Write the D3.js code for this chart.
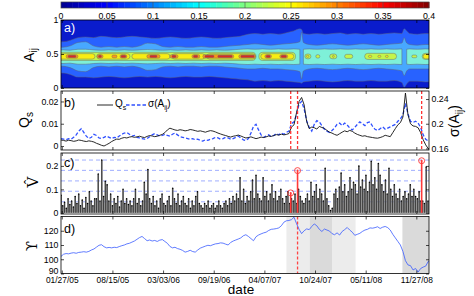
<!DOCTYPE html>
<html><head><meta charset="utf-8">
<script src="https://cdn.jsdelivr.net/npm/d3@7"></script>
<style>
body{margin:0;background:#fff}
svg{display:block}
text{font-family:"Liberation Sans",Arial,sans-serif}
</style>
</head><body>
<svg id="chart" width="474" height="296"></svg>
<script>
// ================= DATA =================
const cbTicks = [0,0.05,0.1,0.15,0.2,0.25,0.3,0.35,0.4];
const dateTickLabels = ["01/27/05","08/15/05","03/03/06","09/19/06","04/07/07","10/24/07","05/11/08","11/27/08"];
const aTicks = [0,0.5,1];
const qsTicks = [0,0.01,0.02];
const sigmaTicks = [0.16,0.2,0.24];
const vTicks = [0,0.1,0.2];
const upsTicks = [90,100,110,120];
const vRefLevels = [0.047,0.092,0.136,0.181,0.225];

// panel a: contour band edges of the A_ij distribution
const aDates = ["2005-01-01","2005-02-01","2005-03-01","2005-04-01","2005-05-01","2005-06-01","2005-07-01","2005-08-01","2005-09-01","2005-10-01","2005-11-01","2005-12-01",
"2006-01-01","2006-02-01","2006-03-01","2006-04-01","2006-05-01","2006-06-01","2006-07-01","2006-08-01","2006-09-01","2006-10-01","2006-11-01","2006-12-01",
"2007-01-01","2007-02-01","2007-03-01","2007-04-01","2007-05-01","2007-06-01","2007-07-01","2007-08-01","2007-08-25","2007-09-01","2007-09-08","2007-10-01","2007-11-01","2007-12-01",
"2008-01-01","2008-02-01","2008-03-01","2008-04-01","2008-05-01","2008-06-01","2008-07-01","2008-08-01","2008-09-01","2008-10-01","2008-10-10","2008-10-20","2008-11-01","2008-12-01",
"2009-01-01","2009-02-01"];
const aOuterHi = [0.68,0.68,0.70,0.74,0.75,0.74,0.76,0.75,0.74,0.75,0.76,0.75,
0.74,0.73,0.74,0.75,0.74,0.73,0.74,0.75,0.74,0.73,0.74,0.75,
0.76,0.79,0.80,0.79,0.80,0.79,0.81,0.84,0.87,0.86,0.80,0.79,0.80,0.79,
0.80,0.81,0.79,0.80,0.79,0.80,0.79,0.80,0.81,0.80,0.87,0.84,0.80,0.79,0.80,0.80];
const aOuterLo = [0.22,0.22,0.20,0.16,0.16,0.15,0.16,0.17,0.16,0.15,0.16,0.17,
0.16,0.17,0.16,0.15,0.16,0.17,0.16,0.16,0.17,0.16,0.15,0.14,
0.13,0.12,0.10,0.11,0.10,0.11,0.10,0.09,0.08,0.07,0.09,0.10,0.11,0.10,
0.09,0.10,0.11,0.10,0.10,0.11,0.10,0.10,0.11,0.08,0.01,0.06,0.10,0.10,0.09,0.10];
const aMidHi = [0.60,0.60,0.62,0.67,0.68,0.62,0.60,0.61,0.60,0.61,0.60,0.62,
0.66,0.65,0.61,0.60,0.61,0.60,0.60,0.61,0.60,0.60,0.61,0.62,
0.63,0.64,0.65,0.64,0.63,0.64,0.65,0.66,0.68,0.82,0.67,0.64,0.63,0.64,
0.65,0.64,0.63,0.64,0.65,0.64,0.63,0.64,0.65,0.66,0.74,0.66,0.64,0.63,0.64,0.64];
const aMidLo = [0.32,0.32,0.30,0.25,0.24,0.30,0.32,0.31,0.32,0.31,0.32,0.30,
0.26,0.27,0.31,0.32,0.31,0.32,0.32,0.31,0.32,0.32,0.31,0.30,
0.29,0.28,0.28,0.29,0.28,0.28,0.27,0.26,0.24,0.13,0.25,0.28,0.29,0.28,
0.27,0.28,0.29,0.28,0.27,0.28,0.29,0.28,0.27,0.25,0.18,0.25,0.28,0.28,0.28,0.28];
const aInnerHi = [0.555,0.56,0.555,0.57,0.57,0.56,0.555,0.56,0.555,0.56,0.555,0.56,
0.565,0.56,0.555,0.56,0.555,0.56,0.555,0.56,0.555,0.56,0.555,0.56,
0.57,0.575,0.57,0.575,0.57,0.575,0.57,0.575,0.57,null,0.57,0.575,0.57,0.575,
0.57,0.575,0.57,0.575,0.57,0.575,0.57,0.575,0.57,0.575,null,0.57,0.575,0.57,0.575,0.57];
const aInnerLo = [0.365,0.36,0.365,0.35,0.35,0.36,0.365,0.36,0.365,0.36,0.365,0.36,
0.355,0.36,0.365,0.36,0.365,0.36,0.365,0.36,0.365,0.36,0.365,0.36,
0.35,0.345,0.35,0.345,0.35,0.345,0.35,0.345,0.35,null,0.35,0.345,0.35,0.345,
0.35,0.345,0.35,0.345,0.35,0.345,0.35,0.345,0.35,0.345,null,0.35,0.345,0.35,0.345,0.35];

// panel a: high-density islands (level 4..7)
const blobFrom = ["2005-01-01","2007-03-16","2007-09-14","2007-10-27","2007-12-21","2008-02-18","2008-05-07","2008-11-09","2008-12-20",
"2005-01-01","2005-06-15","2005-10-31","2006-04-07","2006-08-23","2007-03-24","2007-09-20","2008-01-01","2008-05-22","2008-06-28","2008-07-28","2008-12-24",
"2005-02-13","2005-06-15","2005-08-13","2005-09-14","2005-12-29","2006-03-30","2006-06-25","2006-08-07","2006-12-27","2007-04-09","2007-06-07",
"2005-02-21","2005-06-21","2005-09-18","2006-01-10","2006-04-07","2006-07-01","2006-08-15","2006-10-05","2007-01-04","2007-04-14","2007-06-12"];
const blobTo = ["2007-03-05","2007-08-08","2007-10-08","2007-11-12","2008-01-18","2008-03-21","2008-09-10","2008-11-29","2009-02-01",
"2005-06-07","2005-10-23","2006-03-30","2006-08-15","2007-03-03","2007-08-01","2007-09-30","2008-01-08","2008-06-04","2008-07-10","2008-08-08","2009-02-01",
"2005-04-01","2005-07-09","2005-09-02","2005-10-11","2006-02-19","2006-05-01","2006-07-26","2006-12-07","2007-03-03","2007-05-05","2007-07-08",
"2005-03-24","2005-07-03","2005-10-07","2006-02-07","2006-04-23","2006-07-18","2006-09-20","2006-12-01","2007-02-26","2007-04-30","2007-07-03"];
const blobLevel = [4,4,4,4,4,4,4,4,4, 5,5,5,5,5,5,5,5,5,5,5,5, 6,6,6,6,6,6,6,6,6,6,6, 7,7,7,7,7,7,7,7,7,7,7];
const blobLo = [0.405,0.405,0.43,0.44,0.43,0.435,0.42,0.445,0.42,
0.425,0.425,0.425,0.425,0.425,0.425,0.45,0.45,0.45,0.45,0.45,0.43,
0.44,0.44,0.445,0.44,0.44,0.44,0.44,0.44,0.44,0.44,0.44,
0.45,0.45,0.45,0.45,0.45,0.45,0.45,0.45,0.45,0.45,0.45];
const blobHi = [0.525,0.525,0.50,0.49,0.50,0.495,0.51,0.485,0.51,
0.505,0.505,0.505,0.505,0.505,0.505,0.48,0.48,0.48,0.48,0.48,0.50,
0.49,0.49,0.485,0.49,0.49,0.49,0.49,0.49,0.49,0.49,0.49,
0.48,0.48,0.48,0.48,0.48,0.48,0.48,0.48,0.48,0.48,0.48];

// panels b, d: sampled every 10 days from lineStart
const lineStart = "2005-01-24", lineStepDays = 10;
const qsValues = [0.0027,0.0025,0.0022,0.0026,0.0024,0.0021,0.0023,0.0027,0.0025,0.0022,
0.0020,0.0023,0.0021,0.0018,0.0012,0.0008,0.0003,0.0000,0.0006,0.0012,
0.0020,0.0026,0.0031,0.0030,0.0035,0.0038,0.0036,0.0040,0.0042,0.0039,
0.0041,0.0044,0.0040,0.0038,0.0043,0.0047,0.0045,0.0042,0.0044,0.0048,
0.0052,0.0060,0.0072,0.0080,0.0076,0.0072,0.0070,0.0073,0.0071,0.0068,
0.0070,0.0074,0.0072,0.0069,0.0066,0.0068,0.0065,0.0062,0.0066,0.0069,
0.0067,0.0063,0.0058,0.0054,0.0050,0.0047,0.0043,0.0040,0.0044,0.0046,
0.0049,0.0045,0.0040,0.0036,0.0038,0.0041,0.0037,0.0033,0.0036,0.0040,
0.0038,0.0041,0.0045,0.0043,0.0047,0.0051,0.0049,0.0053,0.0050,0.0052,
0.0056,0.0085,0.0095,0.0150,0.0200,0.0218,0.0185,0.0110,0.0078,0.0085,
0.0082,0.0076,0.0088,0.0083,0.0079,0.0070,0.0062,0.0058,0.0052,0.0048,
0.0055,0.0062,0.0068,0.0064,0.0070,0.0066,0.0058,0.0052,0.0048,0.0044,
0.0046,0.0042,0.0040,0.0038,0.0036,0.0035,0.0038,0.0042,0.0048,0.0045,
0.0042,0.0060,0.0078,0.0095,0.0105,0.0130,0.0238,0.0140,0.0100,0.0090,
0.0088,0.0082,0.0060,0.0028,0.0005,-0.0012,-0.0015];
const sigmaValues = [0.176,0.175,0.174,0.176,0.175,0.178,0.182,0.188,0.192,0.186,
0.180,0.176,0.178,0.183,0.181,0.177,0.176,0.178,0.180,0.178,
0.176,0.178,0.177,0.180,0.183,0.185,0.186,0.183,0.180,0.181,
0.178,0.177,0.176,0.175,0.176,0.179,0.182,0.184,0.182,0.180,
0.181,0.183,0.181,0.180,0.183,0.185,0.182,0.179,0.178,0.177,
0.176,0.175,0.176,0.174,0.175,0.173,0.172,0.174,0.173,0.175,
0.176,0.178,0.177,0.175,0.176,0.178,0.177,0.175,0.176,0.178,
0.180,0.177,0.174,0.173,0.176,0.185,0.196,0.199,0.190,0.182,
0.178,0.180,0.182,0.179,0.181,0.184,0.182,0.185,0.183,0.186,
0.188,0.200,0.203,0.215,0.232,0.236,0.224,0.205,0.194,0.188,
0.199,0.205,0.203,0.197,0.191,0.188,0.186,0.189,0.193,0.199,
0.201,0.197,0.201,0.198,0.193,0.190,0.194,0.199,0.203,0.200,
0.197,0.202,0.203,0.196,0.191,0.189,0.192,0.195,0.191,0.193,
0.195,0.197,0.199,0.204,0.208,0.214,0.233,0.216,0.204,0.202,
0.204,0.201,0.194,0.182,0.175,0.172,0.171];
const upsValues = [102.0,103.5,104.0,103.8,104.3,104.6,104.2,104.8,105.0,105.3,
105.0,105.5,106.5,107.2,108.5,109.8,110.2,108.8,108.0,108.3,
108.0,108.4,108.2,108.9,109.5,110.0,110.8,111.2,112.0,112.8,
114.0,115.2,116.0,114.5,113.0,113.5,112.8,113.2,112.5,113.4,
113.8,112.5,111.2,109.0,108.0,108.4,107.5,107.0,106.2,105.0,
105.5,106.3,105.4,105.0,106.5,107.8,108.5,109.2,109.8,109.5,
110.2,110.8,111.0,111.5,111.3,110.6,110.0,111.8,112.8,113.5,
114.2,115.0,116.5,117.2,116.0,114.5,113.0,115.8,117.0,117.8,
118.5,119.0,120.2,121.0,121.2,121.5,122.0,123.5,126.0,127.0,
127.2,127.8,129.5,125.0,121.0,118.0,120.0,121.3,120.8,123.0,
124.8,123.5,121.0,119.5,121.2,120.5,119.8,118.0,117.2,118.5,
117.0,119.5,120.8,122.3,120.5,119.0,116.8,117.5,118.2,119.5,
120.5,121.0,122.0,121.8,122.2,122.8,121.6,122.5,123.0,122.2,
120.5,117.5,115.0,112.5,110.0,105.5,99.0,96.0,95.5,92.5,
93.5,91.0,93.5,94.5,95.2,98.5,97.0];

// panel c: weekly V-hat
const barStart = "2005-01-24", barStepDays = 7;
const vHatValues = [0.075,0.03,0.045,0.02,0.06,0.035,0.05,0.025,0.07,0.04,
0.08,0.03,0.055,0.02,0.065,0.04,0.09,0.05,0.03,0.06,
0.06,0.165,0.05,0.225,0.07,0.135,0.12,0.05,0.08,0.03,
0.06,0.04,0.07,0.025,0.05,0.10,0.04,0.06,0.035,0.05,
0.03,0.06,0.10,0.04,0.06,0.03,0.05,0.13,0.08,0.185,
0.06,0.04,0.07,0.03,0.05,0.02,0.06,0.08,0.04,0.03,
0.05,0.07,0.03,0.105,0.06,0.04,0.08,0.03,0.05,0.07,
0.04,0.03,0.06,0.02,0.05,0.03,0.07,0.09,0.04,0.03,
0.02,0.04,0.03,0.05,0.02,0.03,0.04,0.02,0.03,0.05,
0.03,0.02,0.04,0.05,0.03,0.06,0.04,0.07,0.05,0.08,
0.06,0.15,0.05,0.10,0.04,0.07,0.05,0.09,0.14,0.06,
0.16,0.08,0.06,0.05,0.15,0.07,0.09,0.05,0.08,0.12,
0.06,0.09,0.05,0.07,0.10,0.06,0.04,0.07,0.09,0.04,
0.06,0.05,0.08,0.04,0.10,0.07,0.05,0.04,0.06,0.08,
0.05,0.13,0.07,0.09,0.12,0.06,0.10,0.08,0.05,0.19,
0.06,0.03,0.01,0.02,0.08,0.10,0.06,0.11,0.17,0.09,
0.12,0.07,0.09,0.15,0.10,0.13,0.12,0.08,0.20,0.11,
0.14,0.10,0.16,0.09,0.13,0.22,0.12,0.15,0.10,0.21,
0.16,0.12,0.09,0.14,0.08,0.19,0.10,0.07,0.12,0.08,
0.06,0.10,0.05,0.07,0.09,0.06,0.08,0.12,0.07,0.10,
0.07,0.06,0.09,0.05,0.05,0.04,0.195,0.05];

const eventDates = ["2007-07-20","2007-08-16","2008-12-18"];
const eventVHat = [0.085,0.18,0.222];
const markedDate = "2007-08-16";
const shadeFrom = ["2007-07-03","2007-10-03","2008-01-01","2008-10-03"];
const shadeTo   = ["2007-10-03","2008-01-01","2008-04-01","2009-01-20"];
const shadeTone = [1,2,1,2];

// ================= STYLE / LAYOUT =================
const W=474, H=296, L=61, R=429;
const CB={y0:2,y1:8}, PA={y0:20,y1:88}, PB={y0:91,y1:150}, PC={y0:153,y1:214}, PD={y0:216.5,y1:273.5};
const levelColors = ["#0a1ccc","#2862ff","#48a8ff","#7ef0d8","#c4f54a","#f8ee12","#ff9a12","#e0281e"];
const contourStroke = "#5f6378";
const tickFont = 8.8;

const parse = d3.timeParse("%Y-%m-%d");
const tickParse = d3.timeParse("%m/%d/%y");
const svg = d3.select("#chart");

const x = d3.scaleTime().domain([new Date(2005,0,24), new Date(2009,0,16)]).range([L,R]);
const tickDates = dateTickLabels.map(tickParse);
const labelOf = new Map(tickDates.map((d,i)=>[+d, dateTickLabels[i]]));

const defs = svg.append("defs");
function clip(id, p){ defs.append("clipPath").attr("id",id).append("rect").attr("x",L).attr("y",p.y0).attr("width",R-L).attr("height",p.y1-p.y0); }
clip("cA",PA); clip("cB",PB); clip("cC",PC); clip("cD",PD);

function styleAxis(g){ g.select(".domain").remove(); g.attr("font-family",'"Liberation Sans",Arial,sans-serif').attr("font-size",tickFont); g.selectAll("line").attr("stroke","#000").attr("stroke-width",0.7); }
function xTicks(p, labels){
  svg.append("g").attr("transform",`translate(0,${p.y1})`)
    .call(d3.axisBottom(x).tickValues(tickDates).tickSize(-3).tickPadding(4).tickFormat(labels ? d=>labelOf.get(+d) : ()=>""))
    .call(styleAxis).call(g=>g.attr("font-size",8.4));
  svg.append("g").attr("transform",`translate(0,${p.y0})`)
    .call(d3.axisTop(x).tickValues(tickDates).tickSize(-3).tickFormat(()=>"")).call(styleAxis);
}
function yTicks(scale, ticks, fmt, side){
  const left = side!=="right";
  return svg.append("g").attr("transform",`translate(${left?L:R},0)`)
    .call((left?d3.axisLeft(scale):d3.axisRight(scale)).tickValues(ticks).tickSize(-3).tickPadding(2.5).tickFormat(fmt||(()=>"")))
    .call(styleAxis);
}
function box(p){ svg.append("rect").attr("x",L).attr("y",p.y0).attr("width",R-L).attr("height",p.y1-p.y0).attr("fill","none").attr("stroke","#000").attr("stroke-width",0.8); }
function panelLabel(txt, py, color){ svg.append("text").attr("x",64).attr("y",py).attr("font-size",12.5).attr("fill",color).text(txt); }
function rotLabel(cx, cy, parts, family){
  const t = svg.append("text").attr("transform",`translate(${cx},${cy}) rotate(-90)`).attr("text-anchor","middle");
  if(family) t.style("font-family",family);
  parts.forEach(p=>{ const s=t.append("tspan").attr("font-size",p.size).text(p.text); if(p.dy) s.attr("dy",p.dy); });
}
const fmtNum = d3.format("");

// ================= COLORBAR =================
const jet = d3.scaleLinear().domain([0,0.125,0.375,0.625,0.875,1]).range(["#00008f","#0000ff","#00ffff","#ffff00","#ff0000","#800000"]);
const cb = d3.scaleLinear().domain([0,0.4]).range([L,R]);
const nSteps = 64;
svg.append("g").selectAll("rect").data(d3.range(nSteps)).join("rect")
  .attr("x",i=>cb(i*0.4/nSteps)).attr("width",(R-L)/nSteps+0.4)
  .attr("y",CB.y0).attr("height",CB.y1-CB.y0).attr("fill",i=>jet((i+0.5)/nSteps));
svg.append("g").selectAll("line").data(cbTicks.slice(1,-1)).join("line")
  .attr("x1",d=>cb(d)).attr("x2",d=>cb(d)).attr("y1",CB.y0).attr("y2",CB.y1).attr("stroke","#555").attr("stroke-width",0.6);
svg.append("rect").attr("x",L).attr("y",CB.y0).attr("width",R-L).attr("height",CB.y1-CB.y0).attr("fill","none").attr("stroke","#444").attr("stroke-width",0.7);
svg.append("g").selectAll("text").data(cbTicks).join("text")
  .attr("x",d=>cb(d)).attr("y",19).attr("text-anchor","middle").attr("font-size",tickFont).text(d=>fmtNum(d));

// ================= PANEL A =================
const ya = d3.scaleLinear().domain([0,1]).range([PA.y1,PA.y0]);
const gA = svg.append("g").attr("clip-path","url(#cA)");
gA.append("rect").attr("x",L).attr("y",PA.y0).attr("width",R-L).attr("height",PA.y1-PA.y0).attr("fill",levelColors[0]);
const aPts = aDates.map((d,i)=>({t:parse(d),i}));
function band(hi, lo, color){
  const area = d3.area().defined(p=>hi[p.i]!=null && lo[p.i]!=null)
    .x(p=>x(p.t)).y0(p=>ya(lo[p.i])).y1(p=>ya(hi[p.i])).curve(d3.curveMonotoneX);
  gA.append("path").datum(aPts).attr("d",area).attr("fill",color).attr("stroke",contourStroke).attr("stroke-width",0.5);
}
band(aOuterHi,aOuterLo,levelColors[1]);
band(aMidHi,aMidLo,levelColors[2]);
band(aInnerHi,aInnerLo,levelColors[3]);
const blobs = blobFrom.map((f,i)=>({f:parse(f),t:parse(blobTo[i]),lev:blobLevel[i],lo:blobLo[i],hi:blobHi[i]}));
gA.append("g").selectAll("rect").data(blobs).join("rect")
  .attr("x",d=>x(d.f)).attr("width",d=>Math.max(0.5,x(d.t)-x(d.f)))
  .attr("y",d=>ya(d.hi)).attr("height",d=>ya(d.lo)-ya(d.hi))
  .attr("rx",d=>Math.min((x(d.t)-x(d.f))/2,(ya(d.lo)-ya(d.hi))/2))
  .attr("ry",d=>(ya(d.lo)-ya(d.hi))/2)
  .attr("fill",d=>levelColors[d.lev]).attr("stroke",contourStroke).attr("stroke-width",0.45);
box(PA); xTicks(PA,false);
yTicks(ya,aTicks,d=>fmtNum(d)); yTicks(ya,aTicks,null,"right");
panelLabel("a)",32,"#fff");
rotLabel(33.5,55,[{text:"A",size:14},{text:"ij",size:10,dy:3.5}]);

// ================= PANEL B =================
const yq = d3.scaleLinear().domain([-0.0018,0.0247]).range([PB.y1,PB.y0]);
const ys = d3.scaleLinear().domain([0.1575,0.253]).range([PB.y1,PB.y0]);
const linePts = qsValues.map((v,i)=>({t:d3.timeDay.offset(parse(lineStart),i*lineStepDays),i}));
const gB = svg.append("g").attr("clip-path","url(#cB)");
gB.append("path").datum(linePts).attr("fill","none").attr("stroke","#2f50ff").attr("stroke-width",1.3).attr("stroke-dasharray","3.5,2")
  .attr("d",d3.line().x(p=>x(p.t)).y(p=>ys(sigmaValues[p.i])));
gB.append("path").datum(linePts).attr("fill","none").attr("stroke","#111").attr("stroke-width",0.9)
  .attr("d",d3.line().x(p=>x(p.t)).y(p=>yq(qsValues[p.i])));
gB.selectAll("line.ev").data(eventDates.map(parse)).join("line").attr("class","ev")
  .attr("x1",d=>x(d)).attr("x2",d=>x(d)).attr("y1",PB.y0).attr("y2",PB.y1)
  .attr("stroke","#ff3333").attr("stroke-width",1.3).attr("stroke-dasharray","3,2");
box(PB); xTicks(PB,false);
yTicks(yq,qsTicks,d=>fmtNum(d));
yTicks(ys,sigmaTicks,d=>fmtNum(d),"right");
panelLabel("b)",107,"#000");
// legend
svg.append("line").attr("x1",97).attr("x2",113).attr("y1",105).attr("y2",105).attr("stroke","#111").attr("stroke-width",0.9);
const lq = svg.append("text").attr("x",115).attr("y",107).attr("font-size",10);
lq.append("tspan").text("Q"); lq.append("tspan").attr("font-size",7).attr("dy",2.5).text("s");
svg.append("line").attr("x1",126).attr("x2",146).attr("y1",105).attr("y2",105).attr("stroke","#2f50ff").attr("stroke-width",1.3).attr("stroke-dasharray","3.5,2");
const ls = svg.append("text").attr("x",148).attr("y",107).attr("font-size",10);
ls.append("tspan").text("σ(A"); ls.append("tspan").attr("font-size",7).attr("dy",2.5).text("ij"); ls.append("tspan").attr("dy",-2.5).text(")");
rotLabel(29,120,[{text:"Q",size:14},{text:"s",size:10,dy:3.5}]);
rotLabel(459,121,[{text:"σ(A",size:14},{text:"ij",size:10,dy:3.5},{text:")",size:14,dy:-3.5}]);

// ================= PANEL C =================
const yv = d3.scaleLinear().domain([-0.005,0.255]).range([PC.y1,PC.y0]);
const gC = svg.append("g").attr("clip-path","url(#cC)");
gC.selectAll("line.ref").data(vRefLevels).join("line").attr("class","ref")
  .attr("x1",L).attr("x2",R).attr("y1",d=>yv(d)).attr("y2",d=>yv(d))
  .attr("stroke","#95a5ff").attr("stroke-width",0.9).attr("stroke-dasharray","4,3");
const bars = vHatValues.map((v,i)=>({t:d3.timeDay.offset(parse(barStart),i*barStepDays),v}));
gC.selectAll("rect.bar").data(bars).join("rect").attr("class","bar")
  .attr("x",d=>x(d.t)-0.8).attr("width",1.6).attr("y",d=>yv(d.v)).attr("height",d=>yv(0)-yv(d.v))
  .attr("fill","#777");
gC.selectAll("line.stem").data(bars).join("line").attr("class","stem")
  .attr("x1",d=>x(d.t)).attr("x2",d=>x(d.t)).attr("y1",d=>yv(d.v)).attr("y2",yv(0))
  .attr("stroke","#1a1a1a").attr("stroke-width",0.6);
gC.selectAll("circle.dot").data(bars).join("circle").attr("class","dot")
  .attr("cx",d=>x(d.t)).attr("cy",d=>yv(d.v)).attr("r",0.75).attr("fill","#000");
const evs = eventDates.map((d,i)=>({t:parse(d),v:eventVHat[i]}));
gC.selectAll("line.rs").data(evs).join("line").attr("class","rs")
  .attr("x1",d=>x(d.t)).attr("x2",d=>x(d.t)).attr("y1",d=>yv(d.v)).attr("y2",yv(0))
  .attr("stroke","#ff3a3a").attr("stroke-width",1.6);
gC.selectAll("circle.ro").data(evs).join("circle").attr("class","ro")
  .attr("cx",d=>x(d.t)).attr("cy",d=>yv(d.v)).attr("r",3).attr("fill","none").attr("stroke","#ff3a3a").attr("stroke-width",0.9);
gC.selectAll("circle.rd").data(evs).join("circle").attr("class","rd")
  .attr("cx",d=>x(d.t)).attr("cy",d=>yv(d.v)).attr("r",1).attr("fill","#ff3a3a");
box(PC); xTicks(PC,false);
yTicks(yv,vTicks,d=>fmtNum(d)); yTicks(yv,vTicks,null,"right");
panelLabel("c)",167,"#000");
rotLabel(38,182,[{text:"V\u0302",size:15}],'"DejaVu Serif",serif');

// ================= PANEL D =================
const yu = d3.scaleLinear().domain([90,130]).range([PD.y1,PD.y0]);
const gD = svg.append("g").attr("clip-path","url(#cD)");
const shades = shadeFrom.map((f,i)=>({f:parse(f),t:parse(shadeTo[i]),tone:shadeTone[i]}));
gD.selectAll("rect.sh").data(shades).join("rect").attr("class","sh")
  .attr("x",d=>x(d.f)).attr("width",d=>x(d.t)-x(d.f)).attr("y",PD.y0).attr("height",PD.y1-PD.y0)
  .attr("fill",d=>d.tone===1?"#ececec":"#dadada");
gD.append("line").attr("x1",x(parse(markedDate))).attr("x2",x(parse(markedDate))).attr("y1",PD.y0).attr("y2",PD.y1)
  .attr("stroke","#ff4444").attr("stroke-width",1.3).attr("stroke-dasharray","3,2");
gD.append("path").datum(linePts).attr("fill","none").attr("stroke","#3a5cff").attr("stroke-width",0.8)
  .attr("d",d3.line().x(p=>x(p.t)).y(p=>yu(upsValues[p.i])));
box(PD); xTicks(PD,true);
const dAxis = yTicks(yu,upsTicks,d=>fmtNum(d)); yTicks(yu,upsTicks,null,"right");
dAxis.selectAll(".tick text").filter(d=>d===upsTicks[0]).attr("dy","0.05em");
panelLabel("d)",233,"#000");
rotLabel(37,246,[{text:"\u03D2",size:15}],'"DejaVu Serif",serif');
svg.append("text").attr("x",241).attr("y",293.5).attr("text-anchor","middle").attr("font-size",13.5).text("date");
</script>
</body></html>
